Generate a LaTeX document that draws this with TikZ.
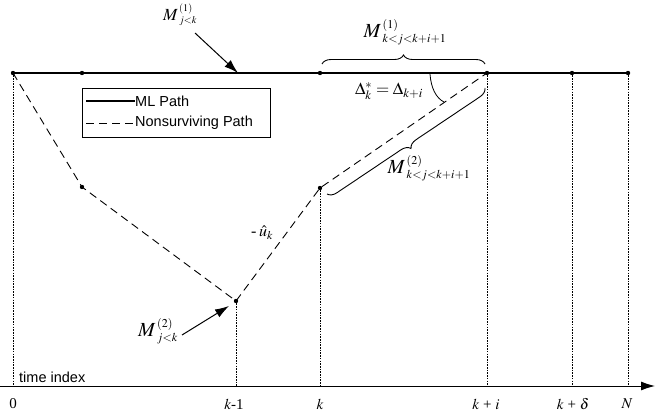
\documentclass[tikz,border=0pt]{standalone}
\usepackage{mathptmx}
\usepackage{fontspec}
\setmainfont{Liberation Serif}
\newfontfamily\legfont{Liberation Sans}
\usetikzlibrary{arrows.meta,decorations.pathreplacing}
\usepackage{amsmath}
\newcommand{\Mlab}[2]{$\boldsymbol{M}^{\,\scriptscriptstyle(#1)}_{\,\scriptscriptstyle #2}$}
\begin{document}
\begin{tikzpicture}[x=1pt,y=-1pt,
  dot/.style={circle,fill,inner sep=0pt,minimum size=4.4pt},
  mlpath/.style={line width=1.4pt},
  nspath/.style={line width=0.9pt,dash pattern=on 8pt off 5pt},
  gridline/.style={line width=0.6pt,dash pattern=on 1.6pt off 1.1pt},
  callout/.style={line width=1pt,-{Latex[length=14pt,width=9pt]}},
  brc/.style={decorate,decoration={brace,amplitude=9pt},line width=0.9pt},
  ticklab/.style={font=\fontsize{15}{17}\selectfont},
  mlab/.style={font=\fontsize{20}{22}\selectfont,inner sep=1pt},
  leg/.style={font=\legfont\fontsize{14.5}{17}\selectfont,inner sep=0pt,anchor=west}]
\useasboundingbox (0,0) rectangle (655,417);
% axis
\coordinate (ax0) at (0,386);
\coordinate (ax1) at (655,386);
\draw[line width=0.9pt,-{Latex[length=14pt,width=9pt]}] (ax0) -- (ax1);
% points on ML path
\node[dot] (p0) at (13,73) {};
\node[dot] (p1) at (82,73) {};
\node[dot] (p2) at (320,73) {};
\node[dot] (p3) at (487,73) {};
\node[dot] (p4) at (572,73) {};
\node[dot] (p5) at (628,73) {};
% nonsurviving path points
\node[dot] (q1) at (82,187) {};
\node[dot] (q2) at (236,301) {};
\node[dot] (q3) at (320,188) {};
% axis feet
\coordinate (a0) at (13,386);
\coordinate (a1) at (236,386);
\coordinate (a2) at (320,386);
\coordinate (a3) at (487,386);
\coordinate (a4) at (572,386);
\coordinate (a5) at (628,386);
% grid lines
\draw[gridline] (p0) -- (a0);
\draw[gridline] (q2) -- (a1);
\draw[gridline] (q3) -- (a2);
\draw[gridline] (p3) -- (a3);
\draw[gridline] (p4) -- (a4);
\draw[gridline] (p5) -- (a5);
% paths
\draw[mlpath] (p0.center) -- (p1.center) -- (p2.center) -- (p3.center) -- (p4.center) -- (p5.center);
\draw[nspath] (p0.center) -- (q1.center) -- (q2.center) -- (q3.center) -- (p3.center);
% tick labels
\node[ticklab] (t0) at (13,404) {0};
\node[ticklab] (t1) at (234,404) {$k$-1};
\node[ticklab] (t2) at (320,404) {$k$};
\node[ticklab] (t3) at (486,404) {$k$ + $i$};
\node[ticklab] (t4) at (573,404) {$k$ + $\delta$};
\node[ticklab] (t5) at (627,404) {$N$};
\node[leg] (ti) at (19,377) {time index};
% legend
\node[draw,line width=0.7pt,minimum width=188pt,minimum height=49pt,anchor=north west,inner sep=0pt] (legbox) at (82,88) {};
\coordinate (l1a) at (86,101);
\coordinate (l1b) at (135,101);
\coordinate (l2a) at (86,123);
\coordinate (l2b) at (135,123);
\draw[mlpath,line width=1.1pt] (l1a) -- (l1b);
\draw[nspath] (l2a) -- (l2b);
\node[leg] (lt1) at (l1b) {ML Path};
\node[leg] (lt2) at (l2b) {Nonsurviving Path};
% callouts
\node[mlab,font=\fontsize{17}{19}\selectfont] (m1) at (180,15) {\Mlab{1}{j<k}};
\coordinate (m1t) at (238,73);
\draw[callout] (195,33) -- (m1t);
\node[mlab] (m2) at (158,331) {\Mlab{2}{j<k}};
\coordinate (m2t) at (229,306);
\draw[callout] (182,335) -- (m2t);
% u_k label
\node[font=\fontsize{16}{18}\selectfont] (uk) at (262,233) {-\,$\hat{u}_k$};
% braces
\coordinate (b1a) at (322,64);
\coordinate (b1b) at (485,64);
\draw[brc] (b1a) -- (b1b);
\node[mlab] (m3) at (405,32) {\Mlab{1}{k<j<k+i+1}};
\coordinate (b2a) at (485,88);
\coordinate (b2b) at (327,194);
\draw[brc] (b2a) -- (b2b);
\node[mlab] (m4) at (429,168) {\Mlab{2}{k<j<k+i+1}};
% angle
\coordinate (ang1) at (430,74);
\coordinate (ang2) at (444,102);
\draw[line width=0.8pt] (ang1) .. controls (431,88) and (436,98) .. (ang2);
\node[font=\fontsize{17}{19}\selectfont] (dl) at (389,91) {$\Delta^{*}_{k}=\Delta_{k+i}$};
\end{tikzpicture}
\end{document}
